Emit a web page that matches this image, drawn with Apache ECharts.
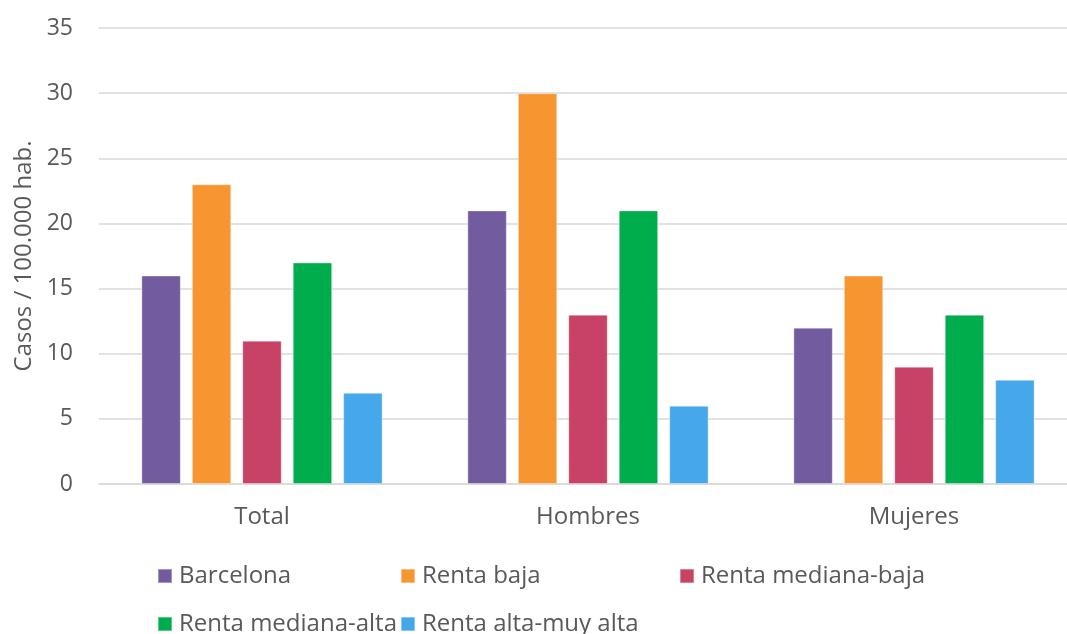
<!DOCTYPE html>
<html>
<head>
<meta charset="utf-8">
<script src="https://cdn.jsdelivr.net/npm/echarts@6/dist/echarts.min.js"></script>
<style>html,body{margin:0;padding:0;background:#fff;overflow:hidden}#c{width:1077px;height:634px}</style>
</head>
<body>
<div id="c"></div>
<script>
var categories = ['Total', 'Hombres', 'Mujeres'];
var seriesNames = ['Barcelona', 'Renta baja', 'Renta mediana-baja', 'Renta mediana-alta', 'Renta alta-muy alta'];
var barcelona = [16, 21, 12];
var rentaBaja = [23, 30, 16];
var rentaMedianaBaja = [11, 13, 9];
var rentaMedianaAlta = [17, 21, 13];
var rentaAltaMuyAlta = [7, 6, 8];
var colors = ['#725C9F', '#F79530', '#C74265', '#00AD4D', '#47A7EB'];
var yName = 'Casos / 100.000 hab.';

var values = [barcelona, rentaBaja, rentaMedianaBaja, rentaMedianaAlta, rentaAltaMuyAlta];
var font = '"Open Sans", sans-serif';
var txt = '#595959';
var legendPos = [[157, 564], [400, 564], [679, 564], [157, 612], [400, 612]];

var chart = echarts.init(document.getElementById('c'), null, {renderer: 'canvas'});
chart.setOption({
  animation: false,
  color: colors,
  textStyle: {fontFamily: font},
  grid: {left: 99, width: 978, top: 28, bottom: 150, containLabel: false},
  legend: seriesNames.map(function (n, i) {
    return {
      data: [n], left: legendPos[i][0], top: legendPos[i][1], padding: 0,
      icon: 'rect', itemWidth: 14, itemHeight: 14, itemGap: 0,
      textStyle: {color: txt, fontSize: 24, fontFamily: font, padding: [0, 0, 0, 2]}
    };
  }),
  xAxis: {
    type: 'category', data: categories,
    axisLine: {show: true, lineStyle: {color: '#D9D9D9', width: 1.5}},
    axisTick: {show: false},
    axisLabel: {color: txt, fontSize: 24, fontFamily: font, margin: 21}
  },
  yAxis: {
    type: 'value', min: 0, max: 35, interval: 5,
    name: yName, nameLocation: 'middle', nameGap: 62, nameRotate: 90,
    nameTextStyle: {color: txt, fontSize: 24, fontFamily: font},
    axisLine: {show: false}, axisTick: {show: false},
    axisLabel: {color: txt, fontSize: 23, fontFamily: font, margin: 26},
    splitLine: {lineStyle: {color: '#D9D9D9', width: 1.5}}
  },
  series: values.map(function (v, i) {
    return {
      name: seriesNames[i], type: 'bar', data: v,
      barGap: '28%', barCategoryGap: '26%',
      itemStyle: {color: colors[i], borderColor: 'rgba(255,255,255,0.35)', borderWidth: 1}
    };
  })
});
</script>
</body>
</html>
